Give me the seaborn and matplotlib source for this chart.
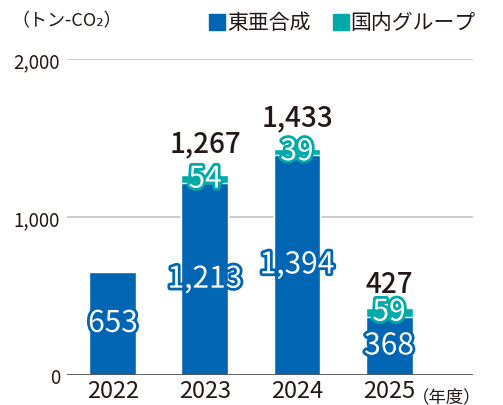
import matplotlib
matplotlib.use("Agg")
import matplotlib.pyplot as plt
import matplotlib.patheffects as pe
import seaborn as sns
import pandas as pd

years = ["2022", "2023", "2024", "2025"]
toa = [653, 1213, 1394, 368]
group = [0, 54, 39, 59]
totals = [653, 1267, 1433, 427]
yticks = [0, 1000, 2000]
ytick_labels = ["0", "1,000", "2,000"]

BLUE = "#0066b3"
TEAL = "#00aaa9"
INK = "#231815"

sns.set_theme(style="white")
plt.rcParams['font.family'] = ['Noto Sans CJK JP', 'DejaVu Sans']

df = pd.DataFrame({"year": years, "toa": toa, "group": group, "total": totals})

fig = plt.figure(figsize=(5.03, 4.06), dpi=100)
ax = fig.add_axes([0.133, 0.074, 0.807, 0.778])

# stacked: total in teal underneath, toa drawn over it in blue
sns.barplot(data=df, x="year", y="total", color=TEAL, width=0.51,
            saturation=1, ax=ax, zorder=3)
sns.barplot(data=df, x="year", y="toa", color=BLUE, width=0.51,
            saturation=1, ax=ax, zorder=4)

ax.set_xlim(-0.5, 3.91)
ax.set_ylim(0, 2000)
ax.set_yticks(yticks)
ax.set_yticklabels(ytick_labels)
ax.set_xlabel("")
ax.set_ylabel("")
for s in ax.spines.values():
    s.set_visible(False)
ax.axhline(1000, color="#c4c4c4", lw=1.2, zorder=1)
ax.axhline(2000, color="#c4c4c4", lw=1.2, zorder=1)
ax.axhline(0, color="#555555", lw=1.3, zorder=5)
ax.tick_params(axis="y", length=0, pad=5, labelsize=13.5, labelcolor=INK)
ax.tick_params(axis="x", length=0, pad=3, labelsize=17, labelcolor=INK)

# value labels
for i in range(len(years)):
    t = ax.text(i, toa[i] / 2, f"{toa[i]:,}", ha="center", va="center",
                color="white", fontsize=21.5, zorder=6)
    t.set_path_effects([pe.withStroke(linewidth=4, foreground=BLUE)])
    if group[i] > 0:
        t = ax.text(i, toa[i] + group[i] / 2, f"{group[i]:,}", ha="center",
                    va="center", color="white", fontsize=21.5, zorder=6)
        t.set_path_effects([pe.withStroke(linewidth=4, foreground=TEAL)])
        off = 17 if i == 3 else 23
        ax.annotate(f"{totals[i]:,}", (i, totals[i]), xytext=(0, off),
                    textcoords="offset points", ha="center", va="center",
                    fontsize=20, color=INK, fontweight="medium",
                    annotation_clip=False)

# unit label, legend, year suffix
fig.text(0.022, 0.948, "（トン-CO₂）", fontsize=13, color=INK,
         va="center", ha="left")
fig.patches.append(plt.Rectangle((0.416, 0.924), 0.032, 0.04,
                                 transform=fig.transFigure, color=BLUE))
fig.text(0.452, 0.944, "東亜合成", fontsize=15, color=INK, va="center")
fig.patches.append(plt.Rectangle((0.662, 0.924), 0.032, 0.04,
                                 transform=fig.transFigure, color=TEAL))
fig.text(0.696, 0.944, "国内グループ", fontsize=15, color=INK, va="center")
fig.text(0.818, 0.022, "（年度）", fontsize=12.5, color=INK, va="center")

plt.savefig("out.png", dpi=100)
